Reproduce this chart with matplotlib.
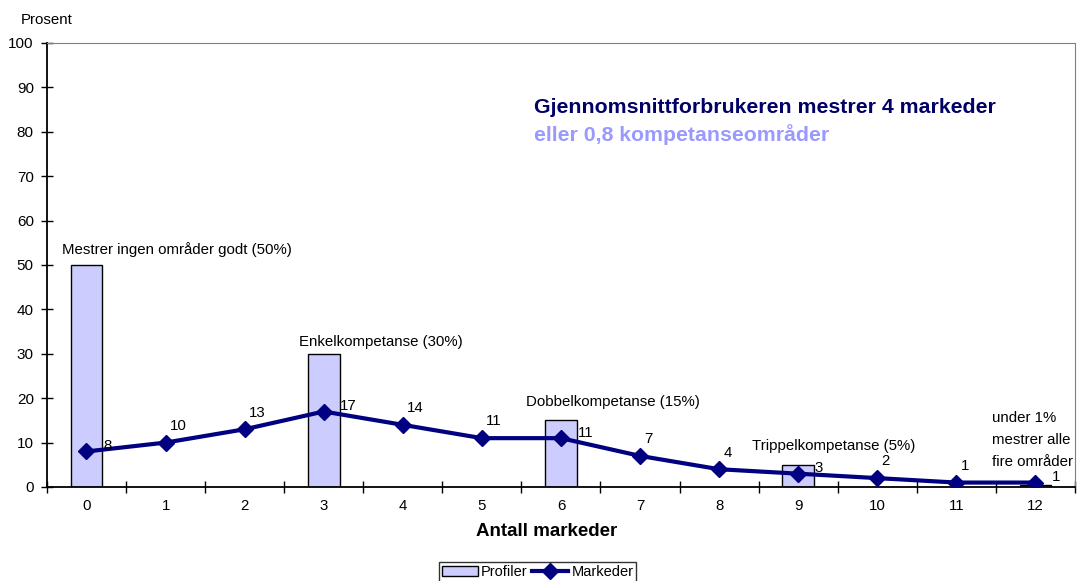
import matplotlib.pyplot as plt

plt.rcParams['font.family'] = ['Liberation Sans', 'DejaVu Sans']

# antall markeder mestret
markeder = [0, 1, 2, 3, 4, 5, 6, 7, 8, 9, 10, 11, 12]
markeder_pst = [8, 10, 13, 17, 14, 11, 11, 7, 4, 3, 2, 1, 1]

# kompetanseprofiler (plassert ved 0, 3, 6, 9 og 12 markeder)
profil_x = [0, 3, 6, 9, 12]
profil_pst = [50, 30, 15, 5, 0.5]

bar_w = 0.4

fig = plt.figure(figsize=(10.77, 5.81), dpi=100)
ax = fig.add_axes([0.0436, 0.1618, 0.9545, 0.7642])

bars = ax.bar(profil_x, profil_pst, width=bar_w, color='#CCCCFF', edgecolor='black',
              linewidth=1, label='Profiler', zorder=2)
line, = ax.plot(markeder, markeder_pst, color='#000080', linewidth=3, marker='D',
                markersize=8, label='Markeder', zorder=3)

# verdietiketter: ved søylene legges etiketten rett til høyre for søylen
for x, y in zip(markeder, markeder_pst):
    if x in profil_x:
        ax.annotate(str(y), (x + bar_w / 2, y), xytext=(0.5, 4),
                    textcoords='offset points', ha='left', va='center', fontsize=10.8)
    else:
        ax.annotate(str(y), (x, y), xytext=(3, 7), textcoords='offset points',
                    ha='left', va='bottom', fontsize=10.8)

ax.set_xlim(-0.5, 12.5)
ax.set_ylim(0, 100)
ax.set_yticks(range(0, 101, 10))
ax.set_xticks(markeder)
ax.set_xticks([i + 0.5 for i in range(-1, 13)], minor=True)
ax.tick_params(axis='x', which='major', length=0, labelsize=10.8, pad=9)
ax.tick_params(axis='x', which='minor', length=9, direction='inout', width=1)
ax.tick_params(axis='y', length=9, direction='inout', labelsize=11, width=1, pad=5)
ax.spines['top'].set_color('#808080')
ax.spines['right'].set_color('#808080')
ax.spines['left'].set_linewidth(1.3)
ax.spines['bottom'].set_linewidth(1.3)
ax.set_xlabel('Antall markeder', fontsize=13.5, fontweight='bold')
ax.xaxis.set_label_coords(0.486, -0.08)
fig.text(0.0195, 0.965, 'Prosent', fontsize=10.8, ha='left', va='center')

# merknader til profilene
ax.text(-0.31, 53.4, 'Mestrer ingen områder godt (50%)', fontsize=10.8, va='center')
ax.text(3.72, 32.7, 'Enkelkompetanse (30%)', fontsize=10.8, ha='center', va='center')
ax.text(6.66, 19.1, 'Dobbelkompetanse (15%)', fontsize=10.8, ha='center', va='center')
ax.text(8.41, 9.2, 'Trippelkompetanse (5%)', fontsize=10.8, va='center')
ax.text(11.45, 17.2, 'under 1%\nmestrer alle\nfire områder', fontsize=10.8,
        va='top', linespacing=1.75)

ax.text(5.66, 85.4, 'Gjennomsnittforbrukeren mestrer 4 markeder', fontsize=15.3,
        fontweight='bold', color='#000066', va='center')
ax.text(5.66, 79.3, 'eller 0,8 kompetanseområder', fontsize=15.3,
        fontweight='bold', color='#9999FF', va='center')

fig.legend(handles=[bars, line], loc='lower center', bbox_to_anchor=(0.499, -0.014),
           ncol=2, frameon=True, fancybox=False, edgecolor='black', fontsize=10.5,
           handlelength=2.5, handletextpad=0.2, columnspacing=0.3,
           borderpad=0.2)

fig.savefig('out.png', dpi=100)
